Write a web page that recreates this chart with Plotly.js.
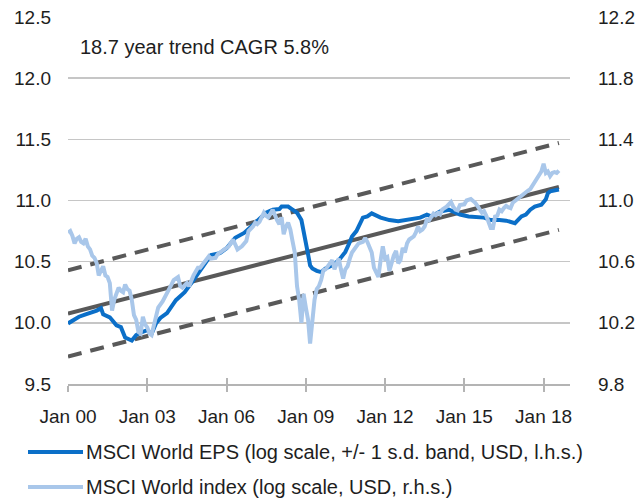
<!DOCTYPE html>
<html>
<head>
<meta charset="utf-8">
<script src="https://cdn.plot.ly/plotly-3.0.1.min.js"></script>
<style>
html,body{margin:0;padding:0;background:#fff;}
#chart{width:640px;height:499px;}
</style>
</head>
<body>
<div id="chart"></div>
<script>
// MSCI World EPS (log, l.h.s.)
const epsDates = ['2000-01','2000-03','2000-06','2000-09','2000-11','2001-02','2001-04','2001-05','2001-08','2001-11',
  '2002-01','2002-02','2002-03','2002-06','2002-08','2002-10','2003-01','2003-03','2003-05','2003-07','2003-10',
  '2004-02','2004-06','2004-10','2005-01','2005-04','2005-06','2005-10','2006-01','2006-05','2006-09',
  '2007-01','2007-03','2007-07','2007-10','2008-01','2008-02','2008-05','2008-07','2008-09','2008-11','2008-12',
  '2009-01','2009-02','2009-03','2009-04','2009-06','2009-08','2009-10','2010-01','2010-04','2010-07','2010-09',
  '2010-10','2010-12','2011-01','2011-03','2011-05','2011-07','2011-11','2012-03','2012-07','2012-12',
  '2013-05','2013-08','2013-10','2014-02','2014-06','2014-11','2015-03','2015-10','2016-01','2016-05',
  '2016-08','2016-12','2017-03','2017-05','2017-07','2017-09','2017-12','2018-02','2018-03','2018-04','2018-08'];
const epsValues = [9.995,10.02,10.05,10.07,10.08,10.10,10.12,10.07,10.045,9.98,
  9.965,9.92,9.88,9.855,9.90,9.92,9.94,9.91,9.995,10.04,10.08,
  10.185,10.25,10.35,10.43,10.51,10.555,10.57,10.61,10.695,10.735,
  10.80,10.83,10.90,10.925,10.93,10.95,10.95,10.925,10.90,10.84,10.76,
  10.68,10.56,10.47,10.445,10.425,10.415,10.445,10.47,10.51,10.58,10.66,
  10.705,10.75,10.79,10.86,10.87,10.895,10.86,10.84,10.83,10.845,
  10.86,10.885,10.87,10.91,10.925,10.885,10.87,10.86,10.84,10.84,
  10.835,10.815,10.87,10.885,10.925,10.95,10.965,11.01,11.06,11.075,11.09];

// MSCI World index (log, r.h.s.)
const idxDates = ['2000-01','2000-02','2000-03','2000-04','2000-05','2000-06','2000-07','2000-08','2000-09','2000-10','2000-11','2000-12',
  '2001-01','2001-02','2001-03','2001-04','2001-05','2001-06','2001-07','2001-08','2001-09','2001-10','2001-11','2001-12',
  '2002-01','2002-02','2002-03','2002-04','2002-05','2002-06','2002-07','2002-08','2002-09','2002-10','2002-11','2002-12',
  '2003-01','2003-02','2003-03','2003-04','2003-05','2003-06','2003-08','2003-10','2003-12',
  '2004-01','2004-03','2004-04','2004-05','2004-07','2004-08','2004-10','2004-12',
  '2005-01','2005-03','2005-05','2005-06','2005-08','2005-09','2005-11',
  '2006-02','2006-04','2006-05','2006-06','2006-08','2006-10','2006-11',
  '2007-01','2007-02','2007-03','2007-04','2007-05','2007-06','2007-07','2007-08','2007-10','2007-11','2007-12',
  '2008-01','2008-02','2008-03','2008-04','2008-05','2008-06','2008-07','2008-08','2008-09','2008-10','2008-11','2008-12',
  '2009-01','2009-02','2009-03','2009-04','2009-05','2009-06','2009-07','2009-08','2009-09','2009-10','2009-11',
  '2010-01','2010-02','2010-04','2010-05','2010-06','2010-07','2010-08','2010-09','2010-10','2010-12',
  '2011-01','2011-03','2011-04','2011-05','2011-06','2011-07','2011-08','2011-10','2011-11','2011-12',
  '2012-01','2012-02','2012-03','2012-04','2012-05','2012-06','2012-07','2012-08','2012-09','2012-10','2012-11','2012-12',
  '2013-02','2013-03','2013-04','2013-05','2013-06','2013-07','2013-08','2013-09','2013-10','2013-11','2013-12',
  '2014-01','2014-02','2014-03','2014-05','2014-06','2014-07','2014-08','2014-09','2014-10','2014-11',
  '2015-01','2015-02','2015-04','2015-05','2015-06','2015-07','2015-08','2015-09','2015-10','2015-11',
  '2016-01','2016-02','2016-03','2016-04','2016-05','2016-06','2016-07','2016-08','2016-09','2016-10','2016-11',
  '2017-01','2017-02','2017-04','2017-06','2017-07','2017-09','2017-10','2017-11','2017-12',
  '2018-01','2018-02','2018-03','2018-04','2018-05','2018-06','2018-07','2018-08'];
const idxValues = [10.79,10.80,10.77,10.72,10.75,10.76,10.73,10.72,10.75,10.70,10.68,10.64,
  10.625,10.59,10.51,10.55,10.57,10.51,10.50,10.46,10.28,10.35,10.39,10.43,
  10.41,10.40,10.45,10.42,10.41,10.35,10.25,10.22,10.14,10.13,10.24,10.19,
  10.17,10.13,10.12,10.19,10.24,10.30,10.34,10.39,10.45,
  10.48,10.50,10.44,10.43,10.46,10.44,10.51,10.56,
  10.56,10.60,10.635,10.62,10.625,10.65,10.67,
  10.70,10.745,10.71,10.68,10.70,10.735,10.80,
  10.83,10.855,10.845,10.86,10.89,10.92,10.90,10.89,10.94,10.90,10.87,
  10.845,10.89,10.78,10.83,10.855,10.81,10.735,10.66,10.44,10.35,10.20,10.39,
  10.30,10.22,10.065,10.23,10.35,10.42,10.44,10.48,10.545,10.55,10.57,
  10.61,10.55,10.62,10.55,10.49,10.55,10.57,10.62,10.66,10.70,
  10.72,10.73,10.755,10.73,10.70,10.66,10.56,10.50,10.61,10.70,
  10.62,10.63,10.54,10.60,10.64,10.67,10.59,10.61,10.69,10.66,10.72,10.745,
  10.765,10.79,10.83,10.80,10.81,10.83,10.875,10.87,10.895,10.915,10.905,
  10.92,10.91,10.94,10.96,10.975,10.99,10.96,10.94,10.935,10.97,
  10.975,11.00,11.01,11.00,10.985,10.965,10.94,10.92,10.93,10.90,
  10.82,10.82,10.895,10.90,10.94,10.93,10.95,10.965,10.955,10.95,10.985,
  11.01,11.02,11.04,11.065,11.075,11.12,11.14,11.17,11.19,
  11.24,11.18,11.19,11.16,11.18,11.185,11.18,11.195];

// Trend (CAGR 5.8%) and +/- 1 s.d. band, end points (l.h.s.)
const trendDates = ['2000-01','2018-08'];
const trendValues = [10.075, 11.11];
const upperBandValues = [10.43, 11.47];
const lowerBandValues = [9.725, 10.76];

// Axis ticks
const xTickVals = ['2000-01-01','2003-01-01','2006-01-01','2009-01-01','2012-01-01','2015-01-01','2018-01-01'];
const xTickText = ['Jan 00','Jan 03','Jan 06','Jan 09','Jan 12','Jan 15','Jan 18'];
const leftTicks = [9.5,10.0,10.5,11.0,11.5,12.0,12.5];
const rightTicks = [9.8,10.2,10.6,11.0,11.4,11.8,12.2];

const legendLabels = ['MSCI World EPS (log scale, +/- 1 s.d. band, USD, l.h.s.)',
                      'MSCI World index (log scale, USD, r.h.s.)'];
const annotationText = '18.7 year trend CAGR 5.8%';

const C_EPS = '#0b6fc8';
const C_IDX = '#a9c7ea';
const C_TREND = '#595959';
const FONT = 'Liberation Sans, Arial, sans-serif';
const TXT = '#1e1e1e';

const traces = [
  {x: idxDates, y: idxValues, yaxis: 'y2', type: 'scatter', mode: 'lines',
   line: {color: C_IDX, width: 4}, name: legendLabels[1], hoverinfo: 'skip'},
  {x: trendDates, y: upperBandValues, type: 'scatter', mode: 'lines',
   line: {color: C_TREND, width: 4, dash: '14px,9px'}, hoverinfo: 'skip'},
  {x: trendDates, y: lowerBandValues, type: 'scatter', mode: 'lines',
   line: {color: C_TREND, width: 4, dash: '14px,9px'}, hoverinfo: 'skip'},
  {x: trendDates, y: trendValues, type: 'scatter', mode: 'lines',
   line: {color: C_TREND, width: 4}, hoverinfo: 'skip'},
  {x: epsDates, y: epsValues, type: 'scatter', mode: 'lines',
   line: {color: C_EPS, width: 4}, name: legendLabels[0], hoverinfo: 'skip'}
];

const PW = 502, PH = 367, ML = 68, MT = 17;
const px2x = p => (p - ML) / PW;
const py2y = p => (MT + PH - p) / PH;

const layout = {
  width: 640, height: 499,
  margin: {l: ML, r: 640 - ML - PW, t: MT, b: 499 - MT - PH, pad: 0},
  paper_bgcolor: '#fff', plot_bgcolor: '#fff',
  showlegend: false,
  font: {family: FONT, size: 20, color: TXT},
  xaxis: {
    type: 'date', range: ['2000-01-01','2019-01-01'],
    tickvals: xTickVals, ticktext: xTickText,
    showgrid: false, zeroline: false,
    showline: true, linecolor: '#b4b4b4', linewidth: 2,
    ticks: 'outside', ticklen: 6, tickwidth: 2, tickcolor: '#b4b4b4',
    ticklabelstandoff: 8,
    tickfont: {family: FONT, size: 19, color: TXT}
  },
  xaxis2: {
    type: 'date', range: ['2000-01-01','2019-01-01'], overlaying: 'x', anchor: 'y', side: 'bottom',
    tickvals: xTickVals, showticklabels: false, showgrid: false, zeroline: false, showline: false,
    ticks: 'inside', ticklen: 6, tickwidth: 2, tickcolor: '#b4b4b4'
  },
  yaxis: {
    range: [9.5, 12.5], tickvals: leftTicks, tickformat: '.1f',
    showgrid: true, gridcolor: '#c6c6c6', gridwidth: 1.5,
    zeroline: false, showline: false, ticks: '',
    ticklabelstandoff: 16,
    tickfont: {family: FONT, size: 19, color: TXT}
  },
  yaxis2: {
    range: [9.8, 12.2], tickvals: rightTicks, tickformat: '.1f',
    overlaying: 'y', side: 'right', showgrid: false, zeroline: false, showline: false, ticks: '',
    ticklabelstandoff: 27,
    tickfont: {family: FONT, size: 19, color: TXT}
  },
  shapes: [
    {type: 'line', xref: 'paper', yref: 'paper', x0: px2x(28), x1: px2x(83), y0: py2y(452), y1: py2y(452),
     line: {color: C_EPS, width: 4}},
    {type: 'line', xref: 'paper', yref: 'paper', x0: px2x(28), x1: px2x(83), y0: py2y(487), y1: py2y(487),
     line: {color: C_IDX, width: 4}}
  ],
  annotations: [
    {xref: 'paper', yref: 'paper', x: px2x(78), y: py2y(47), xanchor: 'left', yanchor: 'middle',
     text: annotationText, showarrow: false, font: {family: FONT, size: 20, color: TXT}},
    {xref: 'paper', yref: 'paper', x: px2x(84), y: py2y(452), xanchor: 'left', yanchor: 'middle',
     text: legendLabels[0], showarrow: false, font: {family: FONT, size: 20, color: TXT}},
    {xref: 'paper', yref: 'paper', x: px2x(84), y: py2y(487), xanchor: 'left', yanchor: 'middle',
     text: legendLabels[1], showarrow: false, font: {family: FONT, size: 20, color: TXT}}
  ]
};

// dummy trace to activate xaxis2 ticks
traces.push({x: ['2000-01-01'], y: [11], xaxis: 'x2', type: 'scatter', mode: 'markers',
  marker: {opacity: 0}, hoverinfo: 'skip'});

Plotly.newPlot('chart', traces, layout, {staticPlot: true, displayModeBar: false});
</script>
</body>
</html>
